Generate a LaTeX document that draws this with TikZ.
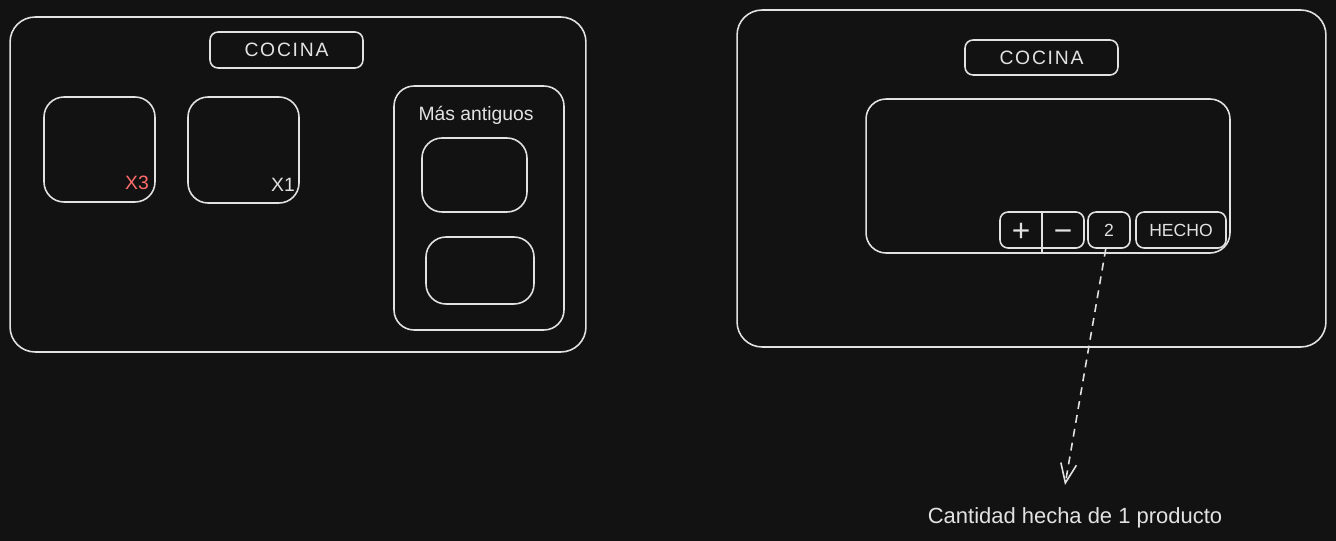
\documentclass[tikz,border=0pt]{standalone}
\usepackage{fontspec}
\setmainfont{Liberation Sans}
\usetikzlibrary{arrows.meta}
\definecolor{bgcol}{HTML}{121212}
\definecolor{inkcol}{HTML}{E2E2E2}
\definecolor{redcol}{HTML}{FF6B6B}

\begin{document}
\begin{tikzpicture}[
  x=0.02cm,y=-0.02cm,line width=0.9pt,
  panel/.style={draw=inkcol,rounded corners=0.5cm,inner sep=0pt},
  card/.style={draw=inkcol,rounded corners=0.4cm,inner sep=0pt},
  btn/.style={draw=inkcol,rounded corners=0.16cm,inner sep=0pt,minimum height=0.72cm,text=inkcol,font=\fontsize{10}{12}\selectfont},
  lbl/.style={text=inkcol,inner sep=1pt,font=\fontsize{11}{13}\selectfont}
]
  \fill[bgcol] (0,0) rectangle (1336,541);
  \useasboundingbox (0,0) rectangle (1336,541);
  \node[panel,minimum width=11.52cm,minimum height=6.70cm] (lp) at (298,184.5) {};
  \node[btn,minimum width=3.06cm,lbl] (lt) at (286.5,50) {C\kern1pt O\kern1pt C\kern1pt I\kern1pt N\kern1pt A};
  \node[card,minimum width=2.22cm,minimum height=2.10cm] (c1) at (99.5,149.5) {};
  \node[card,minimum width=2.22cm,minimum height=2.12cm] (c2) at (243.5,150) {};
  \node[lbl,text=redcol] (q1) at (137,183) {X3};
  \node[lbl] (q2) at (283,185) {X1};
  \node[card,minimum width=3.40cm,minimum height=4.88cm] (ap) at (479,208) {};
  \node[lbl] (at) at (476,115) {Más antiguos};
  \node[card,minimum width=2.10cm,minimum height=1.48cm] (a1) at (474.5,175) {};
  \node[card,minimum width=2.16cm,minimum height=1.34cm] (a2) at (480,270.5) {};
  \node[panel,minimum width=11.78cm,minimum height=6.74cm] (rp) at (1031.5,178.5) {};
  \node[btn,minimum width=3.06cm,minimum height=0.70cm,lbl] (rt) at (1041.5,57.5) {C\kern1pt O\kern1pt C\kern1pt I\kern1pt N\kern1pt A};
  \node[card,minimum width=7.28cm,minimum height=3.08cm] (oc) at (1048,176) {};
  \node[btn,minimum width=1.68cm] (pm) at (1042,230) {};
  \draw[inkcol] (pm.north) -- ([yshift=-0.08cm]pm.south);
  \node[lbl,font=\fontsize{18}{18}\selectfont] (plus) at (1021,232) {+};
  \node[lbl,font=\fontsize{18}{18}\selectfont] (minus) at (1063,236) {−};
  \node[btn,minimum width=0.84cm] (n2) at (1109,230) {2};
  \node[btn,minimum width=1.80cm] (ok) at (1181,230) {HECHO};
  \node[lbl,font=\fontsize{12.5}{15}\selectfont] (ct) at (1075,518) {Cantidad hecha de 1 producto};
  \coordinate (tip) at (1065,485);
  \draw[inkcol,dash pattern=on 4.5pt off 3.5pt,-{Straight Barb[length=11pt,width=9pt]}] (n2) -- (tip);
\end{tikzpicture}
\end{document}
